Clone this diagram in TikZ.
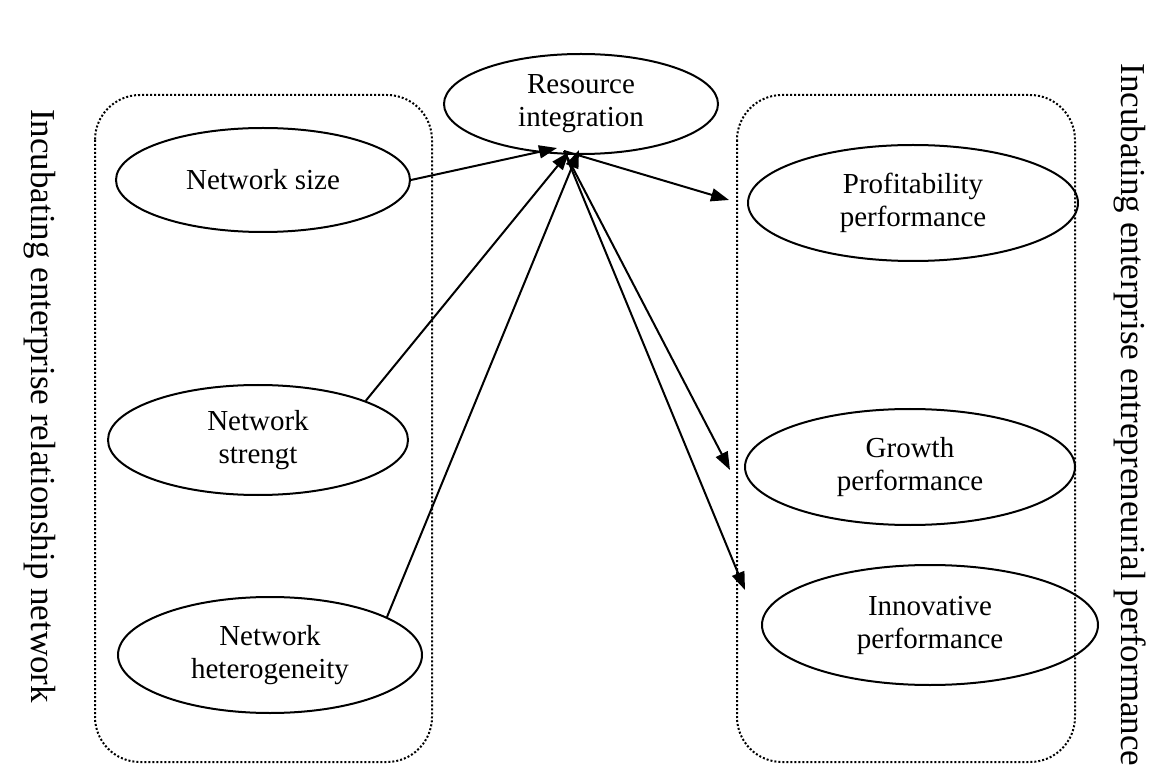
\documentclass[tikz,border=0pt]{standalone}
\usepackage{fontspec}
\setmainfont{Liberation Serif}
\usetikzlibrary{shapes.geometric,arrows.meta}
\begin{document}
\begin{tikzpicture}[x=1pt,y=-1pt,
  oval/.style={draw,line width=2pt,ellipse,inner sep=0pt,align=center,font=\fontsize{29}{33}\selectfont},
  group/.style={draw,dotted,line width=2pt,rounded corners=45pt},
  link/.style={line width=2pt,-{Triangle[length=18pt,width=13pt]}},
  side/.style={rotate=-90,font=\fontsize{35}{38}\selectfont}]
\useasboundingbox (0,0) rectangle (1168,767);
\draw[group] (95,95) rectangle (432,762);
\draw[group] (737,95) rectangle (1075,762);
\node[oval,minimum width=274pt,minimum height=100pt] (res) at (581,104) {Resource\\integration};
\node[oval,minimum width=294pt,minimum height=104pt] (ns) at (263,180) {Network size};
\node[oval,minimum width=300pt,minimum height=110pt] (nst) at (258,440) {Network\\strengt};
\node[oval,minimum width=304pt,minimum height=116pt] (nh) at (270,655) {Network\\heterogeneity};
\node[oval,minimum width=330pt,minimum height=116pt] (pp) at (913,203) {Profitability\\performance};
\node[oval,minimum width=330pt,minimum height=116pt] (gp) at (910,467) {Growth\\performance};
\node[oval,minimum width=336pt,minimum height=120pt] (ip) at (930,625) {Innovative\\performance};
\node[side] (ln) at (40,406) {Incubating enterprise relationship network};
\node[side] (rn) at (1130,415) {Incubating enterprise entrepreneurial performance};
\coordinate (a1) at (557,148);
\coordinate (a2) at (569,152);
\coordinate (a3) at (579,150);
\coordinate (s0) at (564,151);
\coordinate (e1) at (729,200);
\coordinate (e2) at (730,470);
\coordinate (e3) at (745,590);
\draw[link] (ns.east) -- (a1);
\draw[link] (nst.20) -- (a2);
\draw[link] (nh.18) -- (a3);
\draw[link] (s0) -- (e1);
\draw[link] (s0) -- (e2);
\draw[link] (s0) -- (e3);
\end{tikzpicture}
\end{document}
